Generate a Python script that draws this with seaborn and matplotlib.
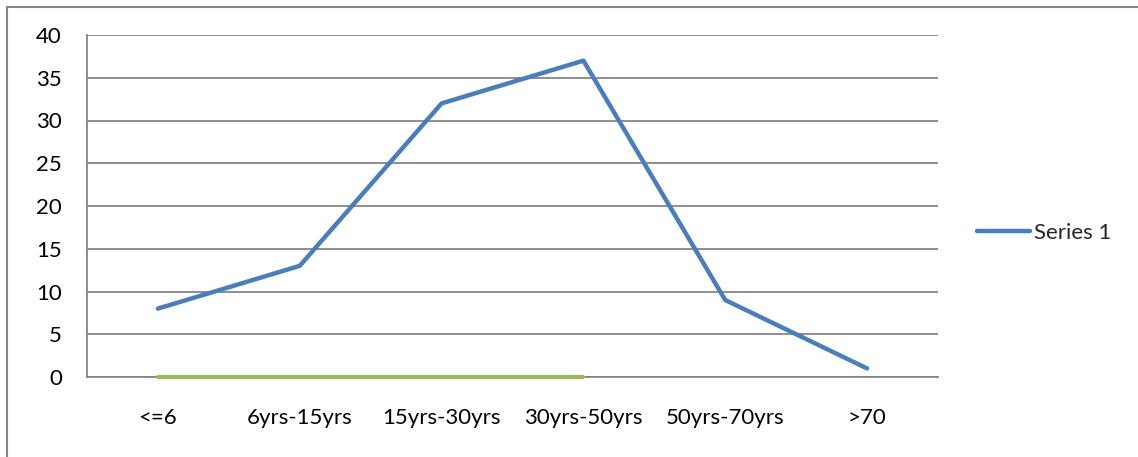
import numpy as np
import pandas as pd
import seaborn as sns
import matplotlib.pyplot as plt
from matplotlib.patches import Rectangle

# Data
age_groups = ["<=6", "6yrs-15yrs", "15yrs-30yrs", "30yrs-50yrs", "50yrs-70yrs", ">70"]
series1 = [8, 13, 32, 37, 9, 1]
series2 = [0, 0, 0, 0, np.nan, np.nan]

blue = "#4a7ebb"
green = "#9bbb59"
grid_gray = "#868686"

sns.set_style("white")
plt.rcParams["font.family"] = ["Lato", "DejaVu Sans"]
fs = 16

fig = plt.figure(figsize=(11.38, 4.57), dpi=100)
ax = fig.add_axes([87 / 1138, 1 - 377 / 457, (938 - 87) / 1138, (377 - 35) / 457])

df1 = pd.DataFrame({"group": age_groups, "value": series1})
df2 = pd.DataFrame({"group": age_groups, "value": series2})

sns.lineplot(data=df2, x="group", y="value", ax=ax, color=green, linewidth=3.0,
             sort=False, label="_nolegend_", zorder=3, clip_on=False)
sns.lineplot(data=df1, x="group", y="value", ax=ax, color=blue, linewidth=3.2,
             sort=False, label="Series 1", zorder=4, solid_capstyle="round")

ax.set_xlim(-0.5, len(age_groups) - 0.5)
ax.set_ylim(0, 40)
ax.set_yticks(np.arange(0, 41, 5))
ax.set_xlabel("")
ax.set_ylabel("")

# category tick marks at the boundaries, labels centred
ax.set_xticks(np.arange(len(age_groups)))
ax.set_xticklabels(age_groups)
ax.set_xticks(np.arange(-0.5, len(age_groups)), minor=True)
ax.tick_params(axis="x", which="major", length=0, pad=22, labelsize=fs, colors="black")
ax.tick_params(axis="x", which="minor", length=7, width=1.3, color=grid_gray, direction="out")
ax.tick_params(axis="y", length=7, width=1.3, color=grid_gray, direction="out",
               pad=11, labelsize=fs, labelcolor="black")

ax.yaxis.grid(True, color=grid_gray, linewidth=1.3)
ax.set_axisbelow(True)
for side in ["top", "right"]:
    ax.spines[side].set_visible(False)
for side in ["left", "bottom"]:
    ax.spines[side].set_color(grid_gray)
    ax.spines[side].set_linewidth(1.3)

ax.legend(loc="center left", bbox_to_anchor=(977 / 1138, 1 - 233 / 457),
          bbox_transform=fig.transFigure, frameon=False, fontsize=fs,
          handlelength=2.4, handletextpad=0.15, borderaxespad=0, borderpad=0)

# outer chart border
fig.patches.append(Rectangle((7 / 1138, -0.1), 1.2, 1 - 7 / 457 + 0.1,
                             transform=fig.transFigure, fill=False,
                             edgecolor=grid_gray, linewidth=1.5))

fig.savefig("out.png", dpi=100)
